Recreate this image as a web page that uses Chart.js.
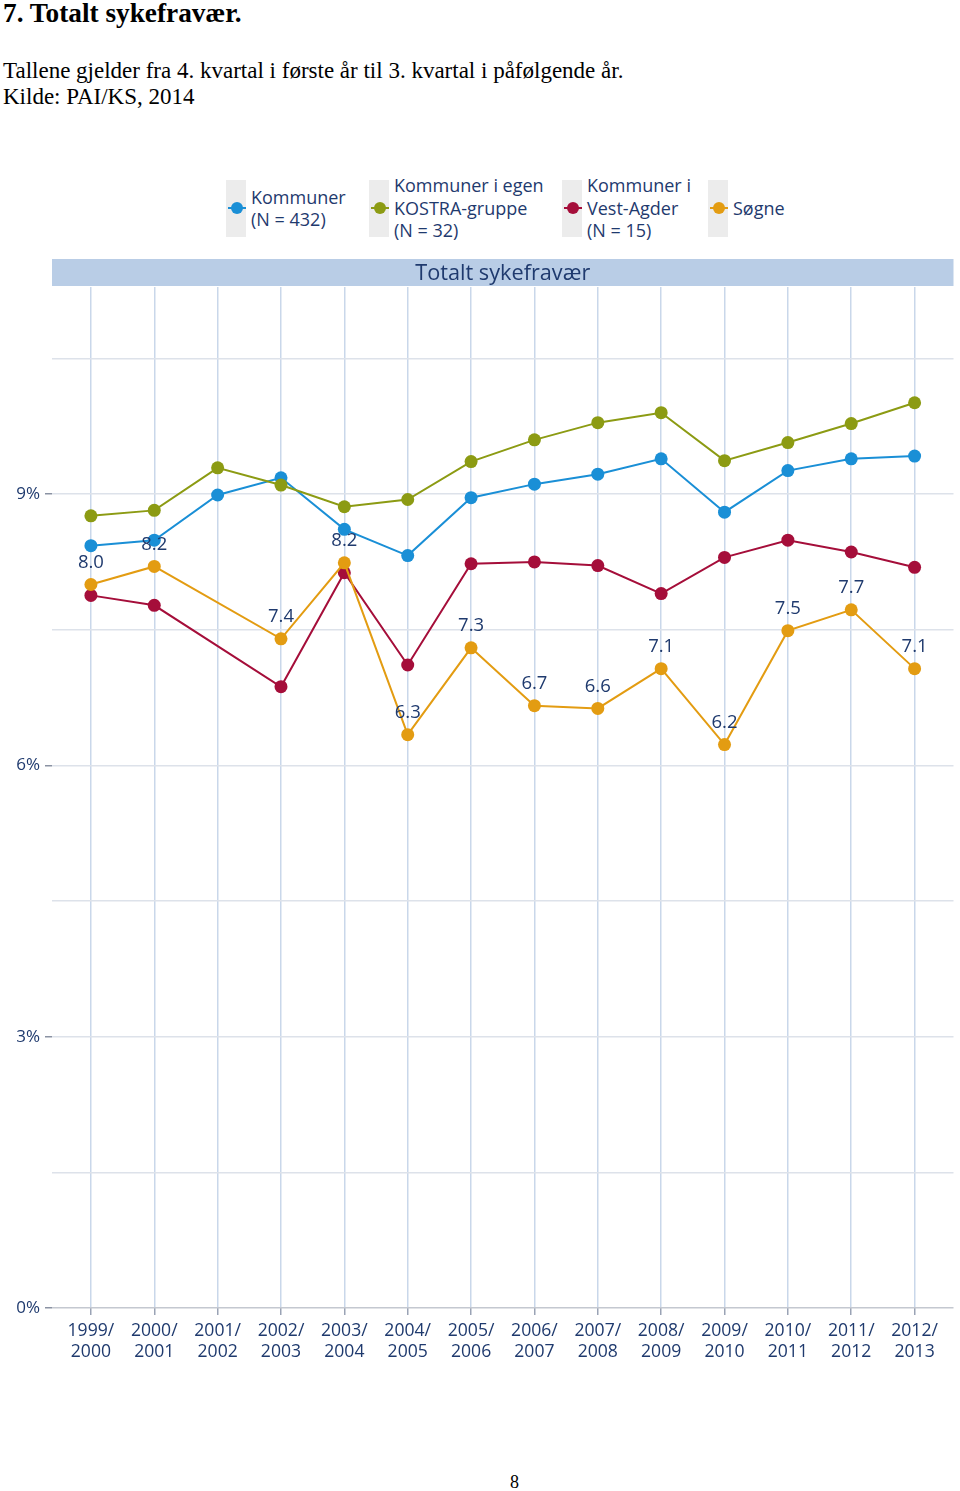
<!DOCTYPE html>
<html>
<head>
<meta charset="utf-8">
<script src="https://cdn.jsdelivr.net/npm/chart.js@4.4.0/dist/chart.umd.min.js"></script>
<style>
  body { margin: 0; background: #fff; width: 960px; height: 1491px; position: relative; overflow: hidden; }
  .doc { position: absolute; left: 3px; font-family: "Liberation Serif", serif; color: #000; white-space: nowrap; }
  .h1 { top: -2px; font-size: 27.3px; font-weight: bold; }
  .p1 { top: 58px; font-size: 23px; }
  .p2 { top: 84px; font-size: 23px; }
  .pg { position: absolute; left: 510px; top: 1472px; font-family: "Liberation Serif", serif; font-size: 18px; }
  .lg { position: absolute; font-family: "Open Sans", sans-serif; font-size: 18px; line-height: 22.5px; color: #1f3a6e; white-space: nowrap; }
  .lgbox { position: absolute; width: 20px; height: 57px; top: 180px; background: #ececec; }
  .lgmark { position: absolute; width: 18px; height: 2px; }
  .lgdot { position: absolute; width: 12px; height: 12px; border-radius: 50%; }
  #wrap { position: absolute; left: 0; top: 250px; width: 960px; height: 1120px; }
</style>
</head>
<body>
<div class="doc h1">7. Totalt sykefravær.</div>
<div class="doc p1">Tallene gjelder fra 4. kvartal i første år til 3. kvartal i påfølgende år.</div>
<div class="doc p2">Kilde: PAI/KS, 2014</div>
<div id="legend"></div>
<div id="wrap"><canvas id="c"></canvas></div>
<div class="pg">8</div>
<script>
// categories and values (percent)
const periods = [
  ['1999/', '2000'], ['2000/', '2001'], ['2001/', '2002'], ['2002/', '2003'],
  ['2003/', '2004'], ['2004/', '2005'], ['2005/', '2006'], ['2006/', '2007'],
  ['2007/', '2008'], ['2008/', '2009'], ['2009/', '2010'], ['2010/', '2011'],
  ['2011/', '2012'], ['2012/', '2013']
];
const kommuner = [8.43, 8.49, 8.99, 9.18, 8.61, 8.32, 8.96, 9.11, 9.22, 9.39, 8.80, 9.26, 9.39, 9.42];
const kostra = [8.76, 8.82, 9.29, 9.10, 8.86, 8.94, 9.36, 9.60, 9.79, 9.90, 9.37, 9.57, 9.78, 10.01];
const vestAgder = [7.88, 7.77, null, 6.87, 8.13, 7.11, 8.23, 8.25, 8.21, 7.90, 8.30, 8.49, 8.36, 8.19];
const sogne = [8.0, 8.2, null, 7.4, 8.24, 6.34, 7.3, 6.66, 6.63, 7.07, 6.23, 7.49, 7.72, 7.07];
const yTicks = [0, 1.5, 3, 4.5, 6, 7.5, 9, 10.5];

const seriesNames = [
  ['Kommuner', '(N = 432)'],
  ['Kommuner i egen', 'KOSTRA-gruppe', '(N = 32)'],
  ['Kommuner i', 'Vest-Agder', '(N = 15)'],
  ['Søgne']
];
const colors = ['#1a8fd6', '#8c9b13', '#a50e3a', '#e39c12'];
const navy = '#1f3a6e';
const chartFont = '"Open Sans", sans-serif';

// html legend
const legendX = [226, 369, 562, 708];
const legend = document.getElementById('legend');
seriesNames.forEach((lines, i) => {
  const x = legendX[i];
  const box = document.createElement('div');
  box.className = 'lgbox';
  box.style.left = x + 'px';
  legend.appendChild(box);
  const mark = document.createElement('div');
  mark.className = 'lgmark';
  mark.style.left = (x + 2) + 'px';
  mark.style.top = '207px';
  mark.style.background = colors[i];
  legend.appendChild(mark);
  const dot = document.createElement('div');
  dot.className = 'lgdot';
  dot.style.left = (x + 5) + 'px';
  dot.style.top = '202px';
  dot.style.background = colors[i];
  legend.appendChild(dot);
  const txt = document.createElement('div');
  txt.className = 'lg';
  txt.style.left = (x + 25) + 'px';
  txt.style.top = (208 - lines.length * 11.25) + 'px';
  txt.innerHTML = lines.join('<br>');
  legend.appendChild(txt);
});

// title band above plot area
const bandPlugin = {
  id: 'band',
  beforeDraw(chart) {
    const { ctx, chartArea } = chart;
    ctx.save();
    ctx.fillStyle = '#b9cde6';
    ctx.fillRect(chartArea.left, 9, chartArea.right - chartArea.left, 27);
    ctx.fillStyle = navy;
    ctx.font = '21.7px ' + chartFont;
    ctx.textAlign = 'center';
    ctx.textBaseline = 'middle';
    ctx.fillText('Totalt sykefravær', (chartArea.left + chartArea.right) / 2, 24);
    ctx.restore();
  }
};

// value labels for Søgne
const labelPlugin = {
  id: 'vals',
  afterDatasetsDraw(chart) {
    const { ctx } = chart;
    const meta = chart.getDatasetMeta(3);
    ctx.save();
    ctx.fillStyle = navy;
    ctx.font = '18.5px ' + chartFont;
    ctx.textAlign = 'center';
    ctx.textBaseline = 'middle';
    meta.data.forEach((pt, i) => {
      const v = sogne[i];
      if (v == null) return;
      ctx.fillText(v.toFixed(1), pt.x, pt.y - 22);
    });
    ctx.restore();
  }
};

const mk = (label, data, i, order) => ({
  label,
  data: data.map((v, k) => ({ x: k, y: v })),
  borderColor: colors[i],
  backgroundColor: colors[i],
  borderWidth: 2,
  pointRadius: 6.5,
  pointBorderWidth: 0,
  spanGaps: true,
  tension: 0,
  order
});

new Chart(document.getElementById('c'), {
  type: 'line',
  data: {
    datasets: [
      mk('Kommuner (N = 432)', kommuner, 0, 4),
      mk('Kommuner i egen KOSTRA-gruppe (N = 32)', kostra, 1, 3),
      mk('Kommuner i Vest-Agder (N = 15)', vestAgder, 2, 2),
      mk('Søgne', sogne, 3, 1)
    ]
  },
  options: {
    responsive: true,
    maintainAspectRatio: false,
    animation: false,
    layout: { padding: { top: 37, right: 3, left: 0, bottom: 0 } },
    plugins: { legend: { display: false }, tooltip: { enabled: false } },
    scales: {
      x: {
        type: 'linear',
        min: -0.614,
        max: 13.614,
        afterBuildTicks: s => { s.ticks = periods.map((_, i) => ({ value: i })); },
        afterFit: s => { s.height = 62; s.paddingLeft = 0; s.paddingRight = 0; },
        border: { display: false },
        grid: { color: '#c9d7ea', lineWidth: 1.5, tickLength: 7, tickColor: '#9aa3b5' },
        ticks: {
          color: navy,
          font: { family: chartFont, size: 17.6 },
          padding: 5,
          maxRotation: 0,
          autoSkip: false,
          callback: v => periods[v]
        }
      },
      y: {
        min: 0,
        max: 11.29,
        afterBuildTicks: s => { s.ticks = yTicks.map(v => ({ value: v })); },
        afterFit: s => { s.width = 52; },
        border: { display: false },
        grid: {
          color: ctx => ctx.tick && ctx.tick.value === 0 ? '#c4c8d0' : '#dde2ea',
          lineWidth: 1.5,
          tickLength: 7,
          tickColor: ctx => ctx.tick && ctx.tick.value % 3 === 0 ? '#8a92a3' : 'rgba(0,0,0,0)'
        },
        ticks: {
          color: navy,
          font: { family: chartFont, size: 17 },
          padding: 5,
          callback: v => (v % 3 === 0 ? v + '%' : '')
        }
      }
    }
  },
  plugins: [bandPlugin, labelPlugin]
});
</script>
</body>
</html>
